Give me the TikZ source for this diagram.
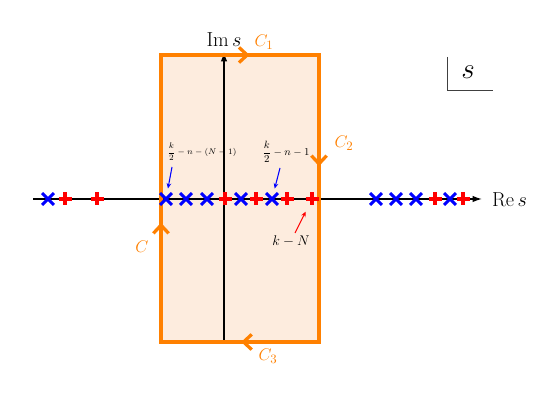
\documentclass[tikz,border=0pt]{standalone}
\usepackage{amsmath}
\usetikzlibrary{arrows.meta,shapes.misc,decorations.markings}
\definecolor{cfill}{RGB}{253,236,222}
\definecolor{corange}{RGB}{255,128,0}
\tikzset{
  cplane/.style={x=0.853pt,y=-0.853pt},
  axis/.style={line width=1.1pt,-{Latex[length=8pt,width=5.5pt]}},
  axlabel/.style={font=\fontsize{16}{19}\selectfont},
  polex/.style={cross out,draw=blue,line width=2.6pt,minimum size=7.5pt,inner sep=0pt},
  zerop/.style={rectangle,minimum size=10.5pt,inner sep=0pt},
  plusarm/.style={draw=red,line width=3pt},
  contour/.style={corange,line width=2.8pt,line join=miter},
  clabel/.style={text=corange,font=\fontsize{15}{18}\selectfont},
  chev/.style={postaction={decorate},decoration={markings,
    mark=at position 0.134 with {\arrow{Straight Barb[length=7pt,width=13pt,line width=2.8pt]}},
    mark=at position 0.422 with {\arrow{Straight Barb[length=7pt,width=13pt,line width=2.8pt]}},
    mark=at position 0.625 with {\arrow{Straight Barb[length=7pt,width=13pt,line width=2.8pt]}},
    mark=at position 0.910 with {\arrow{Straight Barb[length=7pt,width=13pt,line width=2.8pt]}}}},
  ptr/.style={line width=0.9pt,-{Stealth[length=4.5pt,width=4pt]}}
}

\begin{document}
\begin{tikzpicture}[cplane]
    \useasboundingbox (0,0) rectangle (545,409);
    % contour region
    \fill[cfill] (161,55) rectangle (319,342);
    % axes
    \draw[axis] (33,199) -- (482,199);
    \draw[axis] (224,342) -- (224,52);
    \node[axlabel,anchor=west] (res) at (488,200) {$\operatorname{Re}s$};
    \node[axlabel] (ims) at (224,40) {$\operatorname{Im}s$};
    % the contour
    \draw[contour,chev] (161,342) -- (161,55) -- (319,55) -- (319,342) -- cycle;
    \node[clabel] (c1) at (264,42) {$C_1$};
    \node[clabel] (c2) at (344,143) {$C_2$};
    \node[clabel] (c3) at (268,356) {$C_3$};
    \node[clabel] (c0) at (142,247) {$C$};
    % poles and zeros
    \foreach \x [count=\i] in {48,166,186,207,241,272,376,396,416,450}
        \node[polex] (x\i) at (\x,199) {};
    \foreach \x [count=\i] in {65,97,225,256,287,312,435,463} {
        \node[zerop] (p\i) at (\x,199) {};
        \path[plusarm] (\x-6.5,199) -- (\x+6.5,199) (\x,192.5) -- (\x,205.5);
    }
    % labels
    \node[font=\fontsize{6.6}{8}\selectfont] (la) at (202,152) {$\dfrac{k}{2}-n-(N-1)$};
    \node[font=\fontsize{9}{11}\selectfont] (lb) at (286,152) {$\dfrac{k}{2}-n-1$};
    \node[font=\fontsize{13}{15}\selectfont] (lk) at (291,241) {$k-N$};
    \coordinate (la0) at (172,167);
    \coordinate (lb0) at (280,168);
    \coordinate (lk0) at (295,233);
    \draw[ptr,blue] (la0) -- (x2) [shorten >=4pt];
    \draw[ptr,blue] (lb0) -- (x6) [shorten >=4pt];
    \draw[ptr,red] (lk0) -- (p6) [shorten >=6pt];
    % plane marker
    \draw[line width=0.8pt,black!75] (447,57) -- (447,90) -- (493,90);
    \node[font=\fontsize{23}{26}\selectfont] (sv) at (468,72) {$s$};
\end{tikzpicture}
\end{document}
